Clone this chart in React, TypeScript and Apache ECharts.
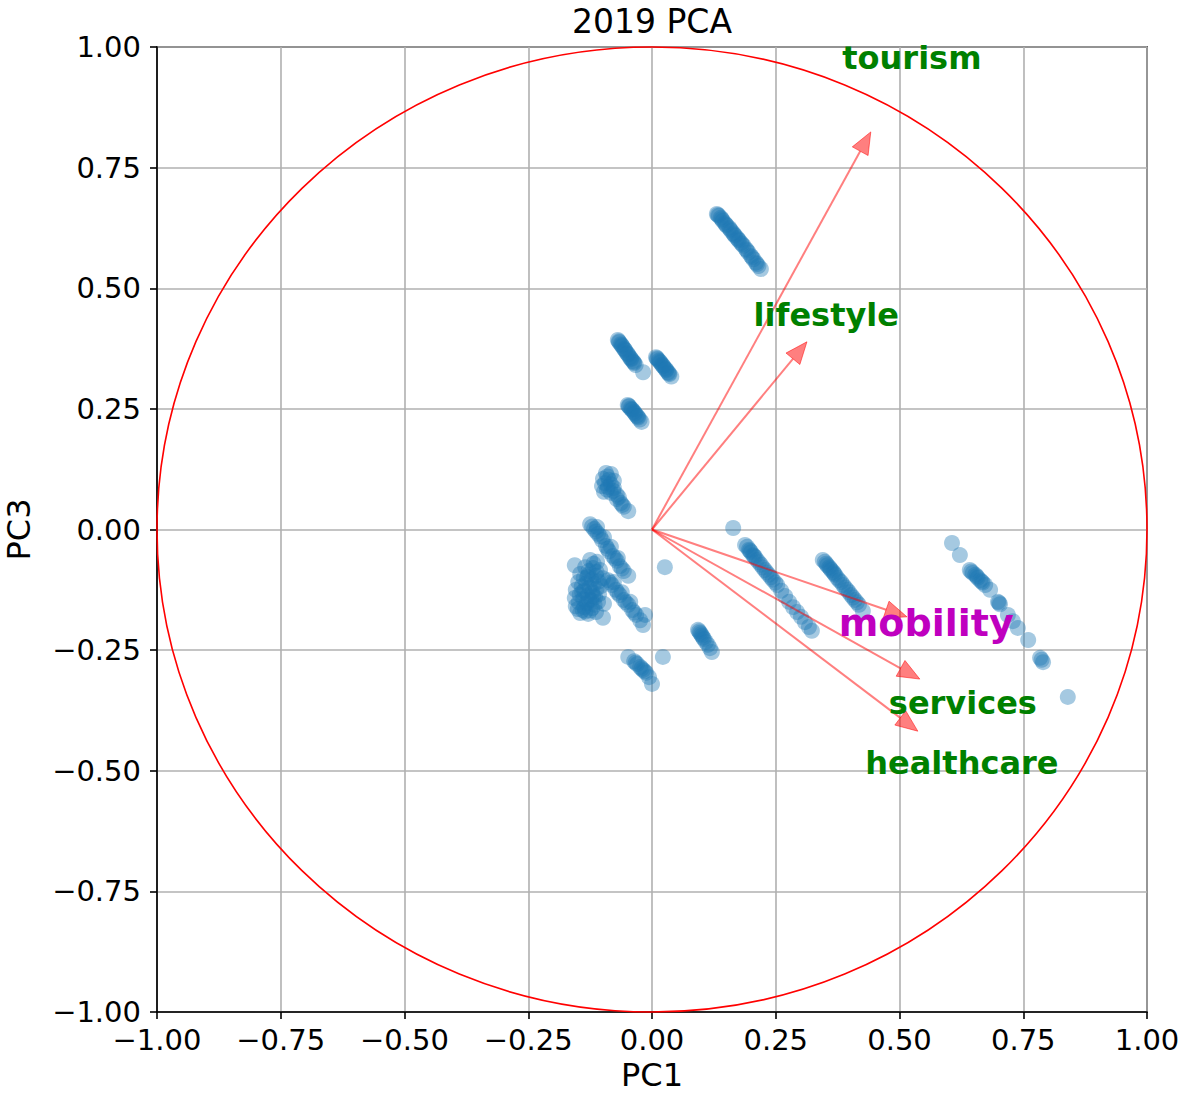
import React, { useEffect, useRef } from "react";
import * as echarts from "echarts";

// ---------- data ----------
const titleText = "2019 PCA";
const xAxisName = "PC1";
const yAxisName = "PC3";
const tickMin = -1;
const tickMax = 1;
const tickStep = 0.25;

// sample scores (PC1, PC3), grouped by streak
const clusterA: number[][] = [
  [0.131, 0.654], [0.135, 0.650], [0.139, 0.646], [0.143, 0.640], [0.147, 0.635], [0.151, 0.630],
  [0.156, 0.625], [0.160, 0.619], [0.164, 0.614], [0.168, 0.609], [0.172, 0.604], [0.176, 0.599],
  [0.180, 0.594], [0.185, 0.588], [0.190, 0.581], [0.195, 0.574], [0.200, 0.567], [0.205, 0.560],
  [0.210, 0.553], [0.215, 0.546], [0.220, 0.540],
  [0.133, 0.652], [0.141, 0.643], [0.149, 0.632], [0.158, 0.622], [0.166, 0.611], [0.174, 0.601],
  [0.182, 0.591], [0.192, 0.578], [0.202, 0.564], [0.212, 0.550],
];
const clusterB: number[][] = [
  [-0.069, 0.393], [-0.066, 0.388], [-0.063, 0.384], [-0.060, 0.380], [-0.057, 0.375], [-0.054, 0.371],
  [-0.051, 0.366], [-0.048, 0.362], [-0.045, 0.357], [-0.042, 0.353], [-0.039, 0.349], [-0.036, 0.345],
  [-0.033, 0.341], [-0.018, 0.326],
  [-0.067, 0.390], [-0.061, 0.382], [-0.055, 0.373], [-0.049, 0.364], [-0.043, 0.355], [-0.037, 0.347],
];
const clusterC: number[][] = [
  [0.008, 0.357], [0.011, 0.353], [0.014, 0.350], [0.017, 0.346], [0.020, 0.342], [0.023, 0.338],
  [0.026, 0.334], [0.029, 0.330], [0.032, 0.326], [0.035, 0.322], [0.039, 0.317],
  [0.010, 0.355], [0.016, 0.348], [0.022, 0.340], [0.028, 0.332], [0.034, 0.324],
];
const clusterD: number[][] = [
  [-0.049, 0.258], [-0.046, 0.255], [-0.043, 0.251], [-0.040, 0.248], [-0.037, 0.244],
  [-0.034, 0.240], [-0.031, 0.236], [-0.028, 0.232], [-0.025, 0.228], [-0.021, 0.223],
  [-0.047, 0.256], [-0.041, 0.249], [-0.035, 0.242], [-0.029, 0.234],
];
const clusterE: number[][] = [
  [-0.093, 0.117], [-0.083, 0.115], [-0.099, 0.105], [-0.087, 0.103], [-0.077, 0.101],
  [-0.101, 0.090], [-0.089, 0.088], [-0.077, 0.086], [-0.097, 0.078], [-0.083, 0.076],
  [-0.071, 0.072], [-0.071, 0.063], [-0.063, 0.055], [-0.057, 0.047], [-0.048, 0.038],
  [-0.090, 0.110], [-0.095, 0.096], [-0.083, 0.094], [-0.091, 0.083], [-0.078, 0.080],
  [-0.067, 0.067], [-0.060, 0.051],
];
const clusterF1: number[][] = [
  [-0.125, 0.011], [-0.117, 0.001], [-0.109, -0.009], [-0.101, -0.022], [-0.093, -0.034],
  [-0.087, -0.045], [-0.079, -0.055], [-0.071, -0.065], [-0.065, -0.076], [-0.057, -0.086],
  [-0.048, -0.096], [-0.111, 0.005], [-0.097, -0.016], [-0.083, -0.036], [-0.069, -0.059],
  [-0.121, 0.006], [-0.105, -0.014], [-0.090, -0.040], [-0.075, -0.060], [-0.061, -0.081], [-0.113, -0.004],
];
const clusterF2: number[][] = [
  [-0.089, -0.105], [-0.081, -0.115], [-0.073, -0.125], [-0.065, -0.136], [-0.057, -0.146],
  [-0.048, -0.156], [-0.040, -0.167], [-0.032, -0.177], [-0.024, -0.188], [-0.018, -0.198],
  [-0.077, -0.109], [-0.061, -0.130], [-0.044, -0.150],
  [-0.085, -0.110], [-0.069, -0.131], [-0.053, -0.151], [-0.036, -0.172],
];
const clusterG: number[][] = [
  [-0.125, -0.063], [-0.111, -0.067], [-0.135, -0.078], [-0.119, -0.080], [-0.105, -0.084],
  [-0.145, -0.092], [-0.129, -0.094], [-0.113, -0.096], [-0.099, -0.101], [-0.149, -0.109],
  [-0.133, -0.111], [-0.117, -0.113], [-0.103, -0.117], [-0.154, -0.125], [-0.137, -0.127],
  [-0.121, -0.130], [-0.107, -0.134], [-0.156, -0.142], [-0.139, -0.144], [-0.123, -0.146],
  [-0.109, -0.150], [-0.154, -0.159], [-0.137, -0.161], [-0.121, -0.163], [-0.145, -0.173],
  [-0.129, -0.175], [-0.113, -0.171], [-0.097, -0.154],
  [-0.118, -0.071], [-0.128, -0.086], [-0.112, -0.088], [-0.138, -0.101], [-0.122, -0.104],
  [-0.108, -0.108], [-0.142, -0.118], [-0.126, -0.120], [-0.112, -0.123], [-0.146, -0.135],
  [-0.130, -0.137], [-0.115, -0.140], [-0.148, -0.151], [-0.132, -0.153], [-0.116, -0.156],
  [-0.140, -0.167], [-0.125, -0.168], [-0.150, -0.165],
  [-0.131, -0.099], [-0.141, -0.130], [-0.127, -0.145], [-0.135, -0.170], [-0.119, -0.138],
];
const clusterH: number[][] = [
  [-0.036, -0.273], [-0.030, -0.279], [-0.024, -0.285], [-0.018, -0.291], [-0.012, -0.297], [-0.006, -0.306],
  [-0.033, -0.276], [-0.021, -0.288], [-0.015, -0.294],
];
const clusterI: number[][] = [
  [0.093, -0.208], [0.097, -0.214], [0.101, -0.220], [0.105, -0.227], [0.109, -0.233],
  [0.113, -0.239], [0.117, -0.246], [0.121, -0.254],
  [0.095, -0.211], [0.099, -0.217], [0.103, -0.224],
];
const clusterJ: number[][] = [
  [0.188, -0.032], [0.196, -0.042], [0.204, -0.053], [0.212, -0.063], [0.220, -0.073],
  [0.228, -0.084], [0.236, -0.094], [0.244, -0.104], [0.253, -0.115], [0.261, -0.127],
  [0.269, -0.138], [0.277, -0.150], [0.285, -0.161], [0.293, -0.171], [0.301, -0.181],
  [0.309, -0.192], [0.317, -0.202], [0.323, -0.210], [0.192, -0.036], [0.200, -0.047], [0.208, -0.057],
  [0.198, -0.044], [0.206, -0.055], [0.216, -0.068], [0.224, -0.079], [0.232, -0.089],
  [0.240, -0.099], [0.249, -0.110],
];
const clusterK: number[][] = [
  [0.345, -0.063], [0.354, -0.074], [0.362, -0.084], [0.370, -0.094], [0.378, -0.105],
  [0.386, -0.115], [0.394, -0.125], [0.402, -0.136], [0.410, -0.146], [0.418, -0.156],
  [0.426, -0.169], [0.349, -0.067], [0.358, -0.078], [0.366, -0.088], [0.382, -0.109], [0.398, -0.130],
  [0.352, -0.071], [0.360, -0.081], [0.368, -0.091], [0.374, -0.100], [0.390, -0.120],
  [0.406, -0.141], [0.414, -0.151],
];
const clusterL: number[][] = [
  [0.606, -0.028], [0.622, -0.053], [0.642, -0.084], [0.648, -0.090], [0.653, -0.094],
  [0.658, -0.100], [0.663, -0.105], [0.668, -0.110], [0.673, -0.115], [0.683, -0.125],
  [0.699, -0.150], [0.703, -0.155], [0.719, -0.177], [0.729, -0.190], [0.739, -0.204],
  [0.760, -0.229], [0.784, -0.266], [0.790, -0.275], [0.840, -0.347],
  [0.645, -0.087], [0.656, -0.097], [0.666, -0.108], [0.701, -0.152], [0.787, -0.270],
];
const singlePoints: number[][] = [
  [-0.156, -0.074], [-0.099, -0.183], [-0.014, -0.177], [0.026, -0.078], [0.164, 0.003],
  [-0.048, -0.264], [0.022, -0.264], [0.000, -0.320],
];

// loading vectors (arrow tips) and their labels
const featureNames = ["tourism", "lifestyle", "mobility", "services", "healthcare"];
const arrowPC1 = [0.442, 0.313, 0.515, 0.541, 0.537];
const arrowPC3 = [0.824, 0.389, -0.181, -0.310, -0.418];
const labelPC1 = [0.525, 0.352, 0.554, 0.628, 0.626];
const labelPC3 = [0.977, 0.445, -0.194, -0.360, -0.484];
const highlightedFeature = "mobility";

// ---------- styles ----------
const FONT = "DejaVu Sans";
const pointColor = "#1f77b4";
const arrowColor = "rgba(255,0,0,0.5)";

const fmt = (v: number) => (v < 0 ? "\u2212" : "") + Math.abs(v).toFixed(2);

export default function App() {
  const ref = useRef<HTMLDivElement>(null);
  useEffect(() => {
    if (!ref.current) return;
    const chart = echarts.init(ref.current, undefined, { renderer: "svg" });
    const scores = [
      ...clusterA, ...clusterB, ...clusterC, ...clusterD, ...clusterE, ...clusterF1, ...clusterF2,
      ...clusterG, ...clusterH, ...clusterI, ...clusterJ, ...clusterK, ...clusterL, ...singlePoints,
    ];
    const axisCommon = {
      type: "value" as const,
      min: tickMin,
      max: tickMax,
      interval: tickStep,
      axisLine: { show: true, onZero: false, lineStyle: { color: "#000", width: 1.6 } },
      axisTick: { show: true, length: 7, lineStyle: { color: "#000", width: 1.6 } },
      splitLine: { show: true, lineStyle: { color: "#b0b0b0", width: 1.6 } },
      axisLabel: { formatter: fmt, fontSize: 29, color: "#000", fontFamily: FONT },
      nameTextStyle: { fontSize: 32, color: "#000", fontFamily: FONT },
      nameLocation: "middle" as const,
    };
    chart.setOption({
      animation: false,
      backgroundColor: "#fff",
      title: {
        text: titleText,
        left: 647,
        textAlign: "center",
        top: 0,
        textStyle: { fontSize: 33, fontWeight: "normal", color: "#000", fontFamily: FONT },
      },
      grid: {
        left: 157, right: 35, top: 47, bottom: 85,
        containLabel: false,
        outerBoundsMode: "none",
        show: true, borderColor: "#000", borderWidth: 1.6, backgroundColor: "transparent",
      },
      xAxis: { ...axisCommon, name: xAxisName, nameGap: 47, axisLabel: { ...axisCommon.axisLabel, margin: 13 } },
      yAxis: { ...axisCommon, name: yAxisName, nameGap: 122, axisLabel: { ...axisCommon.axisLabel, margin: 16 } },
      series: [
        {
          type: "scatter",
          data: scores,
          symbolSize: 16,
          itemStyle: { color: pointColor, opacity: 0.4 },
          z: 2,
        },
        {
          type: "custom",
          coordinateSystem: "cartesian2d",
          data: [[0, 0]],
          silent: true,
          z: 3,
          renderItem: (_p: any, api: any) => {
            const c = api.coord([0, 0]);
            const s = api.size([1, 1]);
            return {
              type: "ellipse",
              shape: { cx: c[0], cy: c[1], rx: s[0], ry: s[1] },
              style: { fill: "none", stroke: "#ff0000", lineWidth: 1.6 },
            };
          },
        },
        {
          type: "custom",
          coordinateSystem: "cartesian2d",
          data: arrowPC1.map((x, i) => [x, arrowPC3[i]]),
          silent: true,
          z: 4,
          renderItem: (_p: any, api: any) => {
            const p0 = api.coord([0, 0]);
            const p1 = api.coord([api.value(0), api.value(1)]);
            const dx = p1[0] - p0[0];
            const dy = p1[1] - p0[1];
            const len = Math.sqrt(dx * dx + dy * dy);
            const ux = dx / len, uy = dy / len;
            const nx = -uy, ny = ux;
            const hl = 22, hw = 9;
            const bx = p1[0] - ux * hl, by = p1[1] - uy * hl;
            return {
              type: "group",
              children: [
                {
                  type: "line",
                  shape: { x1: p0[0], y1: p0[1], x2: bx, y2: by },
                  style: { stroke: arrowColor, lineWidth: 2 },
                },
                {
                  type: "polygon",
                  shape: { points: [[p1[0], p1[1]], [bx + nx * hw, by + ny * hw], [bx - nx * hw, by - ny * hw]] },
                  style: { fill: arrowColor, stroke: arrowColor, lineWidth: 1 },
                },
              ],
            };
          },
        },
        {
          type: "custom",
          coordinateSystem: "cartesian2d",
          data: labelPC1.map((x, i) => [x, labelPC3[i]]),
          silent: true,
          z: 5,
          clip: false,
          renderItem: (p: any, api: any) => {
            const c = api.coord([api.value(0), api.value(1)]);
            const name = featureNames[p.dataIndex];
            const hi = name === highlightedFeature;
            return {
              type: "text",
              x: c[0],
              y: c[1],
              style: {
                text: name,
                fill: hi ? "#bf00bf" : "#008000",
                fontSize: hi ? 38 : 32,
                fontWeight: "bold",
                fontFamily: FONT,
                align: "center",
                verticalAlign: "middle",
              },
            };
          },
        },
      ],
    });
    return () => chart.dispose();
  }, []);
  return (
    <div
      ref={ref}
      style={{ position: "absolute", left: 0, top: 0, width: 1182, height: 1097 }}
    />
  );
}
